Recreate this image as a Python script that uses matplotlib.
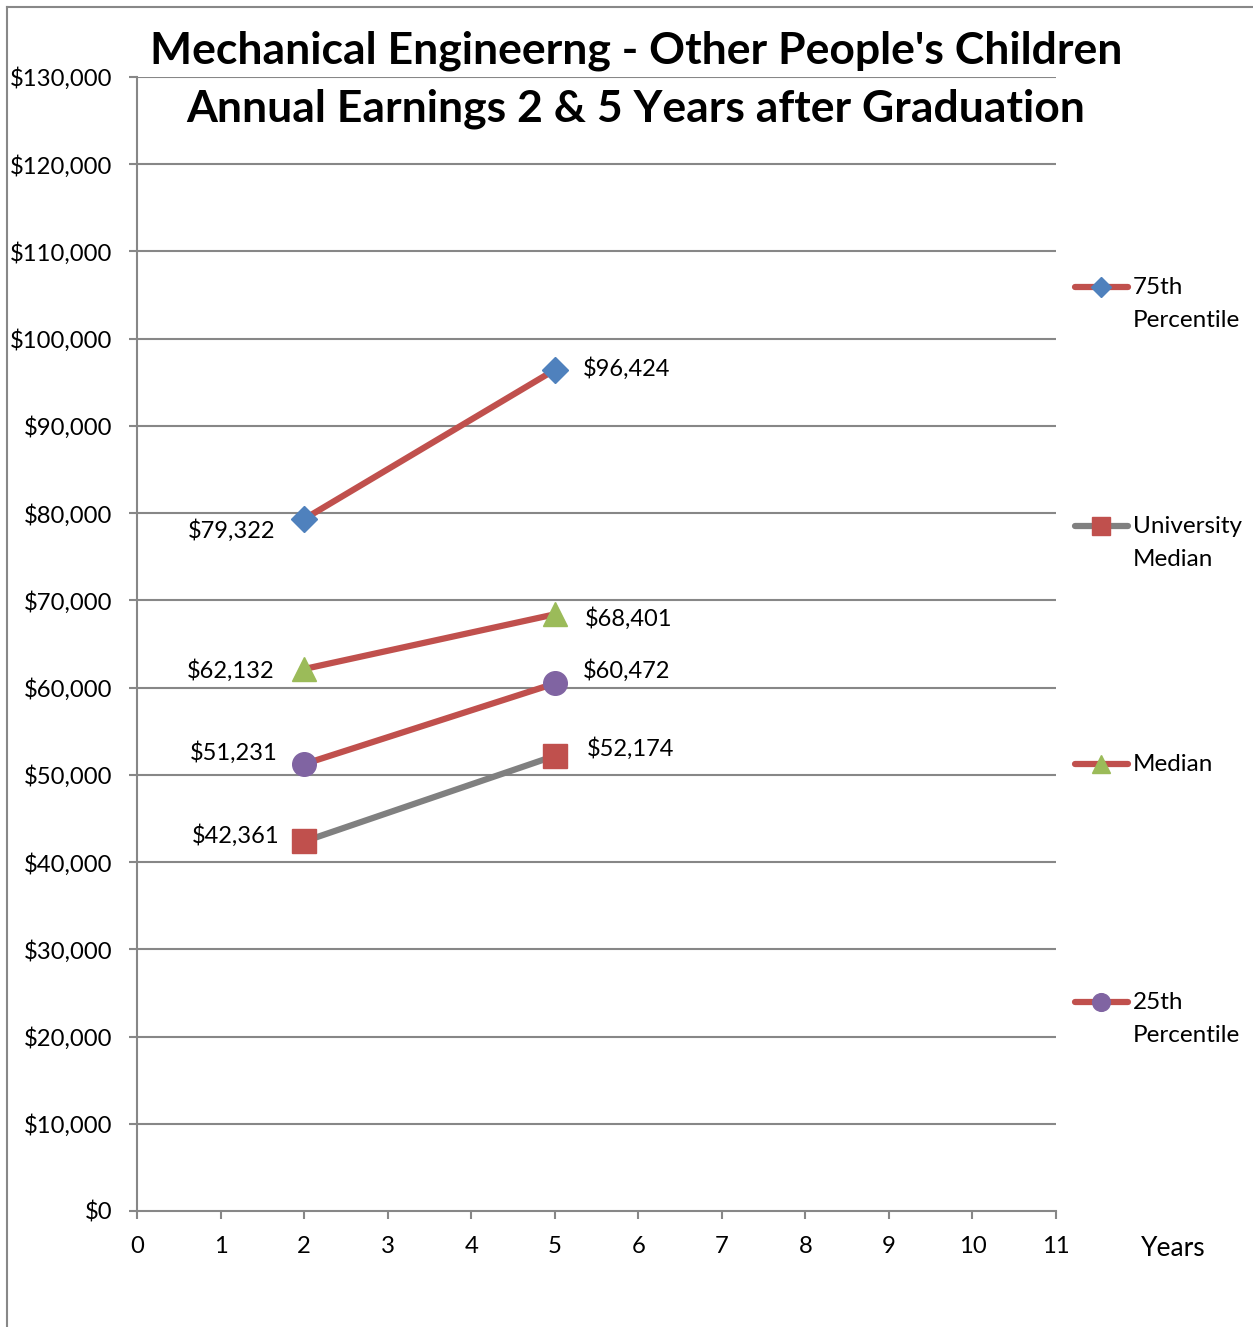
import matplotlib
matplotlib.use('Agg')
import matplotlib.pyplot as plt
from matplotlib.lines import Line2D
from matplotlib.ticker import FuncFormatter
import numpy as np

plt.rcParams['font.family'] = ['Lato', 'DejaVu Sans']

# data
years = [2, 5]
series_names = ['75th\nPercentile', 'University\nMedian', 'Median', '25th\nPercentile']
p75 = [79322, 96424]
uni_median = [42361, 52174]
median = [62132, 68401]
p25 = [51231, 60472]
x_ticks = list(range(0, 12))
y_ticks = list(range(0, 130001, 10000))

series = [p75, uni_median, median, p25]
line_colors = ['#C0504D', '#808080', '#C0504D', '#C0504D']
marker_colors = ['#4F81BD', '#C0504D', '#9BBB59', '#8064A2']
markers = ['D', 's', '^', 'o']
msizes = [13, 17, 17, 17]
# label offsets in points (left point, right point)
offsets = [[(-21, -8), (20, 1)],
           [(-18, 4), (23, 5)],
           [(-21, -1), (22, -3)],
           [(-19, 8), (20, 9)]]

fig = plt.figure(figsize=(12.53, 13.27), dpi=100)
ax = fig.add_axes([137/1253, 1 - 1211/1327, (1056-137)/1253, (1211-77)/1327])

grid_c = '#878787'
for yt in y_ticks[1:]:
    ax.axhline(yt, color=grid_c, lw=1.5, zorder=1)

for vals, lc, mc, mk, ms, offs in zip(series, line_colors, marker_colors, markers, msizes, offsets):
    ax.plot(years, vals, color=lc, lw=4.5, zorder=3, solid_capstyle='butt')
    ax.plot(years, vals, ls='none', marker=mk, ms=ms, color=mc, mec=mc, zorder=4)
    for xv, yv, (dx, dy) in zip(years, vals, offs):
        ax.annotate('${:,.0f}'.format(yv), (xv, yv), xytext=(dx, dy),
                    textcoords='offset points', fontsize=17,
                    ha='right' if dx < 0 else 'left', va='center', zorder=5)

ax.set_xlim(0, 11)
ax.set_ylim(0, 130000)
ax.set_xticks(x_ticks)
ax.set_yticks(y_ticks)
ax.yaxis.set_major_formatter(FuncFormatter(lambda v, p: '${:,.0f}'.format(v)))
for s in ['top', 'right']:
    ax.spines[s].set_visible(False)
for s in ['left', 'bottom']:
    ax.spines[s].set_color(grid_c)
    ax.spines[s].set_linewidth(1.5)
ax.tick_params(axis='both', colors=grid_c, width=1.5, length=6, labelcolor='black',
               labelsize=17.2)
ax.tick_params(axis='x', pad=12)
ax.tick_params(axis='y', pad=12)

fig.text(1173/1253, 1 - 1248/1327, 'Years', fontsize=19, ha='center', va='center')

fig.text(636/1253, 1 - 51/1327, "Mechanical Engineerng - Other People's Children",
         fontsize=32, fontweight='bold', ha='center', va='center')
fig.text(636/1253, 1 - 109/1327, "Annual Earnings 2 & 5 Years after Graduation",
         fontsize=32, fontweight='bold', ha='center', va='center')

# legend on the right, one entry at a time
leg_y = [287, 526, 764, 1002]
for name, lc, mc, mk, ms, ly in zip(series_names, line_colors, marker_colors, markers, msizes, leg_y):
    yf = 1 - ly/1327
    fig.add_artist(Line2D([1075/1253, 1128/1253], [yf, yf], color=lc, lw=4.5,
                          solid_capstyle='round'))
    fig.add_artist(Line2D([1101/1253], [yf], marker=mk, ms=ms*0.75, color=mc, mec=mc, ls='none'))
    fig.text(1133/1253, 1 - (ly - 10)/1327, name, fontsize=17.5, ha='left', va='top',
             linespacing=1.7)

# outer frame lines (left and top)
fig.add_artist(Line2D([7/1253, 7/1253], [0, 1 - 7/1327], color='#888888', lw=1.5))
fig.add_artist(Line2D([7/1253, 1], [1 - 7/1327, 1 - 7/1327], color='#888888', lw=1.5))

fig.savefig('out.png', dpi=100)
